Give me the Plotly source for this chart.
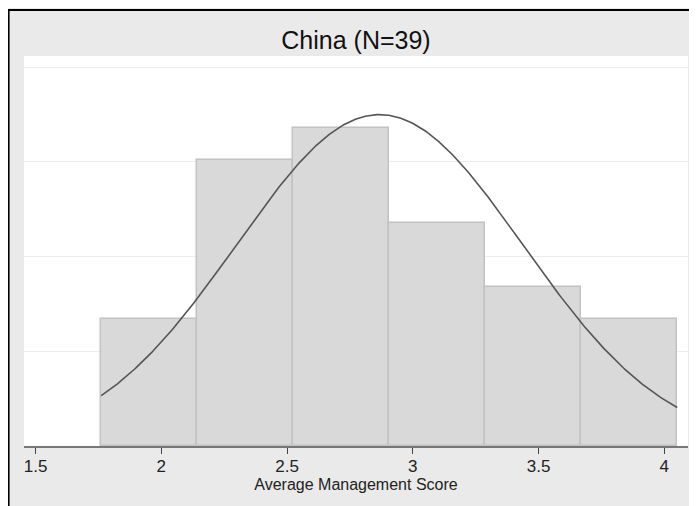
import numpy as np
import plotly.graph_objects as go

# ---- data ----
title_text = "China (N=39)"
x_title = "Average Management Score"
bin_counts = [4, 9, 10, 7, 5, 4]
score_min = 1.761
score_max = 4.051
fit_mean = 2.868
fit_sd = 0.570
x_ticks = [1.5, 2, 2.5, 3, 3.5, 4]
x_tick_labels = ["1.5", "2", "2.5", "3", "3.5", "4"]
y_grid = [0.2, 0.4, 0.6, 0.8]

n_obs = sum(bin_counts)
n_bins = len(bin_counts)
bin_w = (score_max - score_min) / n_bins
centers = [score_min + bin_w * (i + 0.5) for i in range(n_bins)]
density = [c / (n_obs * bin_w) for c in bin_counts]

xc = np.linspace(score_min, score_max, 400)
yc = np.exp(-0.5 * ((xc - fit_mean) / fit_sd) ** 2) / (fit_sd * np.sqrt(2 * np.pi))

# page body has an 8px margin, so the figure sits at (8, 8)
W, H = 689, 498
L, R, T, B = 16, 9, 48, 60
pw, ph = W - L - R, H - T - B


def px_x(p):
    return (p - L) / pw


def px_y(p):
    return (H - B - p) / ph


FONT = "Liberation Sans, Arial, Helvetica, sans-serif"

fig = go.Figure()
fig.add_trace(go.Bar(
    x=centers, y=density, width=[bin_w] * n_bins,
    marker=dict(color="#d9d9d9", line=dict(color="#c2c2c2", width=1.5)),
    hoverinfo="skip", showlegend=False,
))
fig.add_trace(go.Scatter(
    x=xc, y=yc, mode="lines",
    line=dict(color="#555555", width=1.6),
    hoverinfo="skip", showlegend=False,
))

shapes = [
    dict(type="line", xref="paper", yref="paper", x0=px_x(-1), x1=px_x(W + 2),
         y0=px_y(2), y1=px_y(2), line=dict(color="black", width=2.2), layer="above"),
    dict(type="line", xref="paper", yref="paper", x0=px_x(0.5), x1=px_x(0.5),
         y0=px_y(1), y1=px_y(H + 2), line=dict(color="black", width=2.2), layer="above"),
]

fig.update_layout(
    width=W, height=H, autosize=False,
    margin=dict(l=L, r=R, t=T, b=B, pad=0),
    paper_bgcolor="#eaeaea", plot_bgcolor="white",
    bargap=0,
    font=dict(family=FONT, color="#222222"),
    title=dict(text=title_text, x=0.5, xref="paper", xanchor="center",
               y=1 - 32 / H, yref="container", yanchor="middle",
               font=dict(size=25, family=FONT, color="#111111")),
    xaxis=dict(
        range=[1.5 - (27.6 - L) / 251.5, 1.5 + (W - R - 27.6) / 251.5],
        tickvals=x_ticks, ticktext=x_tick_labels,
        ticks="outside", ticklen=6, tickwidth=1.3, tickcolor="#444444",
        showline=True, linecolor="#777777", linewidth=2,
        showgrid=False, zeroline=False,
        ticklabelstandoff=-2,
        tickfont=dict(size=17, family=FONT, color="#222222"),
        title=dict(text=x_title, font=dict(size=16, family=FONT, color="#222222"), standoff=3),
    ),
    yaxis=dict(
        range=[0, (H - B - T) / 473.5],
        tickvals=y_grid, showticklabels=False, ticks="",
        showgrid=True, gridcolor="#ececec", gridwidth=1.3,
        zeroline=False, showline=False,
    ),
    shapes=shapes,
)

fig.write_html("out.html")
